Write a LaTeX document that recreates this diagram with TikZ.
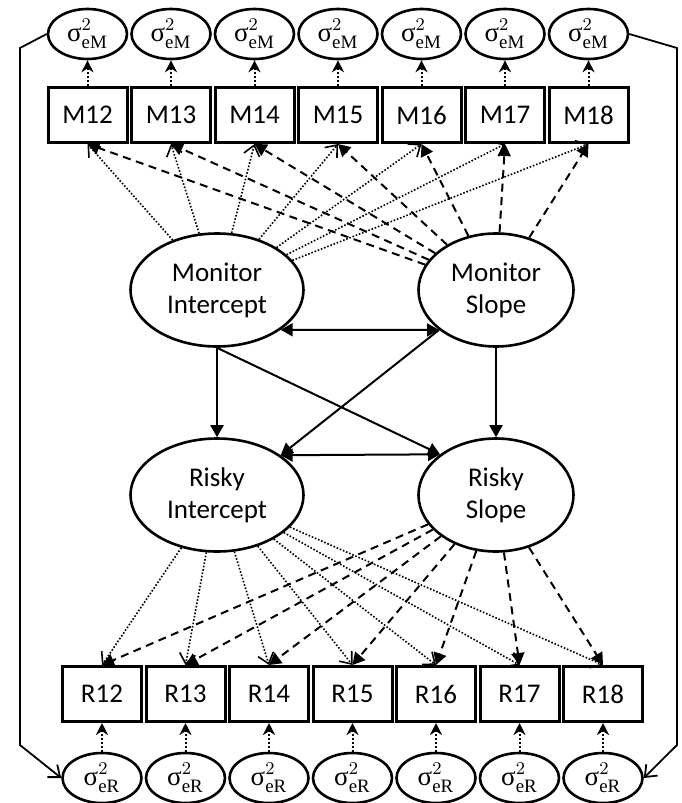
\documentclass[tikz,border=0pt]{standalone}
\usepackage{fontspec}
\setmainfont{Carlito}
\setmathrm{Liberation Serif}
\newfontfamily\grk{Liberation Serif}
\usetikzlibrary{shapes.geometric,arrows.meta}

\newcommand{\evar}[1]{$\mbox{\grk σ}^2_{\mathrm{e#1}}$}

\tikzset{
  obs/.style={draw,rectangle,line width=1.5pt,minimum width=39.5pt,minimum height=27.5pt,inner sep=0pt},
  lat/.style={draw,ellipse,line width=1.3pt,minimum height=56.5pt,inner sep=0pt,align=center},
  err/.style={draw,ellipse,line width=1.3pt,minimum width=39.5pt,minimum height=25pt,inner sep=0pt},
  icpt/.style={line width=0.8pt,dash pattern=on 0.8pt off 0.9pt,-{Straight Barb[length=5pt,width=8pt]}},
  slp/.style={line width=1pt,dash pattern=on 4pt off 2.8pt,-{Triangle[length=6pt,width=6.5pt]}},
  resid/.style={line width=1pt,dash pattern=on 1pt off 1pt,-{Stealth[length=6pt,width=6pt]}},
  reg/.style={line width=1pt,-{Triangle[length=6pt,width=6.5pt]}},
  wrap/.style={line width=0.9pt,-{Straight Barb[length=5pt,width=8pt]}},
}

\begin{document}
\begin{tikzpicture}[x=0.5pt,y=-0.5pt,font=\fontsize{13.5}{16}\selectfont]
\useasboundingbox (0,0) rectangle (681,803);
% error variances, monitor
\node (eM12) at (87.5,34) [err] {\evar{M}};
\node (eM13) at (171,34) [err] {\evar{M}};
\node (eM14) at (254.5,34) [err] {\evar{M}};
\node (eM15) at (338,34) [err] {\evar{M}};
\node (eM16) at (421.5,34) [err] {\evar{M}};
\node (eM17) at (505,34) [err] {\evar{M}};
\node (eM18) at (588.5,34) [err] {\evar{M}};
% monitor indicators
\node (M12) at (87.5,115) [obs] {M12};
\node (M13) at (171,115) [obs] {M13};
\node (M14) at (254.5,115) [obs] {M14};
\node (M15) at (338,115) [obs] {M15};
\node (M16) at (421.5,115) [obs] {M16};
\node (M17) at (505,115) [obs] {M17};
\node (M18) at (588.5,115) [obs] {M18};
% growth factors
\node (MI) at (217,290) [lat,minimum width=86.5pt] {Monitor\\Intercept};
\node (MS) at (496,290) [lat,minimum width=77.5pt] {Monitor\\Slope};
\node (RI) at (217,495) [lat,minimum width=86.5pt] {Risky\\Intercept};
\node (RS) at (496,495) [lat,minimum width=77.5pt] {Risky\\Slope};
% risky indicators
\node (R12) at (102,694) [obs] {R12};
\node (R13) at (185.5,694) [obs] {R13};
\node (R14) at (269,694) [obs] {R14};
\node (R15) at (352.5,694) [obs] {R15};
\node (R16) at (436,694) [obs] {R16};
\node (R17) at (519.5,694) [obs] {R17};
\node (R18) at (603,694) [obs] {R18};
% error variances, risky
\node (eR12) at (102,778) [err] {\evar{R}};
\node (eR13) at (185.5,778) [err] {\evar{R}};
\node (eR14) at (269,778) [err] {\evar{R}};
\node (eR15) at (352.5,778) [err] {\evar{R}};
\node (eR16) at (436,778) [err] {\evar{R}};
\node (eR17) at (519.5,778) [err] {\evar{R}};
\node (eR18) at (603,778) [err] {\evar{R}};
\coordinate (ltop) at (20,48);
\coordinate (lbot) at (20,745);
\coordinate (rtop) at (677,48);
\coordinate (rbot) at (677,745);
% residuals
\draw[resid] (M12) -- (eM12);
\draw[resid] (M13) -- (eM13);
\draw[resid] (M14) -- (eM14);
\draw[resid] (M15) -- (eM15);
\draw[resid] (M16) -- (eM16);
\draw[resid] (M17) -- (eM17);
\draw[resid] (M18) -- (eM18);
\draw[resid] (eR12) -- (R12);
\draw[resid] (eR13) -- (R13);
\draw[resid] (eR14) -- (R14);
\draw[resid] (eR15) -- (R15);
\draw[resid] (eR16) -- (R16);
\draw[resid] (eR17) -- (R17);
\draw[resid] (eR18) -- (R18);
\draw[wrap] (eM12.west) -- (ltop) -- (lbot) -- (eR12.west);
\draw[wrap] (eM18.east) -- (rtop) -- (rbot) -- (eR18.east);
% monitor loadings
\draw[icpt] (MI) -- (M12.south);
\draw[icpt] (MI) -- (M13.south);
\draw[icpt] (MI) -- (M14.south);
\draw[icpt] (MI) -- (M15.south);
\draw[icpt] (MI) -- (M16.south);
\draw[icpt] (MI) -- (M17.south);
\draw[icpt] (MI) -- (M18.south);
\draw[slp] (MS) -- (M12.south);
\draw[slp] (MS) -- (M13.south);
\draw[slp] (MS) -- (M14.south);
\draw[slp] (MS) -- (M15.south);
\draw[slp] (MS) -- (M16.south);
\draw[slp] (MS) -- (M17.south);
\draw[slp] (MS) -- (M18.south);
% risky loadings
\draw[icpt] (RI) -- (R12.north);
\draw[icpt] (RI) -- (R13.north);
\draw[icpt] (RI) -- (R14.north);
\draw[icpt] (RI) -- (R15.north);
\draw[icpt] (RI) -- (R16.north);
\draw[icpt] (RI) -- (R17.north);
\draw[icpt] (RI) -- (R18.north);
\draw[slp] (RS) -- (R12.north);
\draw[slp] (RS) -- (R13.north);
\draw[slp] (RS) -- (R14.north);
\draw[slp] (RS) -- (R15.north);
\draw[slp] (RS) -- (R16.north);
\draw[slp] (RS) -- (R17.north);
\draw[slp] (RS) -- (R18.north);
% structural part
\draw[reg,{Triangle[length=6pt,width=6.5pt]}-{Triangle[length=6pt,width=6.5pt]}] (MI.-32) -- (MS.-145);
\draw[reg,{Triangle[length=6pt,width=6.5pt]}-{Triangle[length=6pt,width=6.5pt]}] (RI.32) -- (RS.144);
\draw[reg] (MI.south) -- (RI.north);
\draw[reg] (MS.south) -- (RS.north);
\draw[reg] (MI.south) -- (RS.144);
\draw[reg] (MS.-145) -- (RI.32);
\end{tikzpicture}
\end{document}
